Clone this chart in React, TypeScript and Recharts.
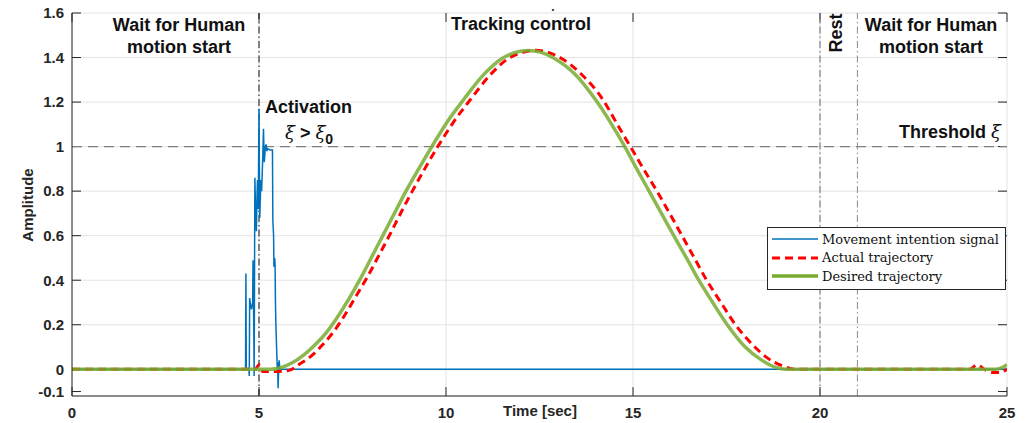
import React from "react";
import { Line, LineChart, CartesianGrid, ReferenceLine, XAxis, YAxis } from "recharts";

// [time (s), amplitude]
const intentionSignal: number[][] = [
  [0, 0], [4.64, 0], [4.65, 0.43], [4.66, 0], [4.73, 0], [4.74, -0.03], [4.75, 0.32], [4.78, 0.28],
  [4.8, 0.27], [4.83, 0.3], [4.84, 0.49], [4.86, 0.2], [4.87, -0.03], [4.88, 0.4], [4.89, 0.86],
  [4.91, 0.7], [4.93, 0.62], [4.95, 0.8], [4.96, 0.85], [4.98, 0.72], [5.0, 1.17], [5.02, 0.68],
  [5.05, 0.85], [5.07, 0.8], [5.1, 0.95], [5.12, 1.08], [5.14, 0.93], [5.15, 0.95], [5.17, 1.0],
  [5.19, 1.01], [5.21, 0.98], [5.23, 0.99], [5.3, 0.985], [5.36, 0.985], [5.37, 0.67], [5.39, 0.6],
  [5.4, 0.46], [5.42, 0.5], [5.43, 0.47], [5.44, 0.3], [5.45, 0.21], [5.47, 0.1], [5.49, 0],
  [5.5, 0.03], [5.51, -0.085], [5.53, 0.02], [5.54, 0.04], [5.56, -0.01], [5.58, 0], [25, 0],
];

const actualTrajectory: number[][] = [
  [0, 0], [4.9, 0], [5.0, 0.02], [5.1, -0.01], [5.5, -0.01], [5.8, -0.005], [6.1, 0.025], [6.4, 0.06],
  [6.7, 0.11], [7.0, 0.17], [7.3, 0.245], [7.6, 0.33], [7.9, 0.415], [8.2, 0.51], [8.5, 0.605],
  [8.8, 0.705], [9.1, 0.8], [9.43, 0.9], [9.78, 1.0], [10.2, 1.11], [10.67, 1.215], [11.17, 1.32],
  [11.68, 1.397], [12.05, 1.423], [12.39, 1.433], [12.73, 1.423], [13.08, 1.397], [13.62, 1.325],
  [14.2, 1.21], [14.58, 1.1], [14.93, 1.0], [15.28, 0.9], [15.64, 0.8], [15.98, 0.7], [16.31, 0.6],
  [16.64, 0.5], [16.97, 0.4], [17.35, 0.3], [17.74, 0.2], [18.2, 0.11], [18.6, 0.05], [19.0, 0.015],
  [19.34, 0], [24.0, 0], [24.2, 0.02], [24.4, 0], [24.6, -0.015], [24.8, -0.015], [25, 0],
];

const desiredTrajectory: number[][] = [
  [0, 0], [5.3, 0], [5.6, 0.008], [5.9, 0.03], [6.2, 0.065], [6.5, 0.11], [6.8, 0.165], [7.1, 0.235],
  [7.4, 0.315], [7.69, 0.4], [8.0, 0.5], [8.31, 0.6], [8.62, 0.7], [8.93, 0.8], [9.27, 0.9],
  [9.62, 1.0], [10.05, 1.115], [10.49, 1.215], [11.0, 1.322], [11.51, 1.397], [11.85, 1.423],
  [12.2, 1.432], [12.55, 1.423], [12.89, 1.397], [13.45, 1.325], [14.0, 1.21], [14.4, 1.108],
  [14.78, 1.0], [15.1, 0.9], [15.43, 0.8], [15.76, 0.7], [16.09, 0.6], [16.43, 0.5], [16.76, 0.4],
  [17.13, 0.3], [17.52, 0.2], [18.0, 0.1], [18.45, 0.04], [18.8, 0.01], [19.1, 0], [24.7, 0],
  [24.9, 0.01], [25, 0.02],
];

const xTicks = [0, 5, 10, 15, 20, 25];
const yTicks = [-0.1, 0, 0.2, 0.4, 0.6, 0.8, 1, 1.2, 1.4, 1.6];
const xDomain = [0, 25];
const yDomain = [-0.12, 1.6];
// inward tick length, in data units (about 9px)
const xTickLen = 0.24;
const yTickLen = 0.04;

const legendItems = [
  { name: "Movement intention signal", color: "#0072BD", width: 1.5, dash: undefined },
  { name: "Actual trajectory", color: "#FF0000", width: 3, dash: "8 5" },
  { name: "Desired trajectory", color: "#77AC30", width: 3.5, dash: undefined },
];

const toPoints = (rows: number[][]) => rows.map(([t, v]) => ({ t, v }));

const axisFont = { fontFamily: "Liberation Sans, Arial, sans-serif", fontWeight: 700, fontSize: 15, fill: "#262626" };
const noteStyle = { fontFamily: "Liberation Sans, Arial, sans-serif", fontWeight: 700, fontSize: 18, fill: "#111" };

function ChartLegend() {
  return (
    <div
      style={{
        position: "absolute",
        left: 767,
        top: 227,
        width: 229,
        border: "1px solid #262626",
        background: "#fff",
        padding: "2px 4px 3px 4px",
      }}
    >
      {legendItems.map((item) => (
        <div key={item.name} style={{ display: "flex", alignItems: "center", height: 18.5 }}>
          <svg width={46} height={10}>
            <line x1={0} x2={46} y1={5} y2={5} stroke={item.color} strokeWidth={item.width} strokeDasharray={item.dash} />
          </svg>
          <span style={{ fontFamily: "DejaVu Serif, serif", fontSize: 13, color: "#111", marginLeft: 4, whiteSpace: "nowrap" }}>
            {item.name}
          </span>
        </div>
      ))}
    </div>
  );
}

export default function App() {
  return (
    <div style={{ position: "fixed", left: 0, top: 0, width: 1026, height: 423, background: "#fff" }}>
      <LineChart width={1026} height={423} margin={{ top: 13, right: 19, bottom: 0, left: 0 }}>
        <CartesianGrid stroke="#e3e3e3" strokeWidth={1} />
        <XAxis
          dataKey="t"
          type="number"
          domain={xDomain}
          ticks={xTicks}
          allowDataOverflow
          height={27}
          tickLine={false}
          tickMargin={5}
          stroke="#262626"
          tick={axisFont}
        />
        <XAxis xAxisId="top" orientation="top" type="number" domain={xDomain} height={0} tick={false} tickLine={false} stroke="#262626" />
        <YAxis
          type="number"
          domain={yDomain}
          ticks={yTicks}
          allowDataOverflow
          width={72}
          tickLine={false}
          stroke="#262626"
          tick={axisFont}
        />
        <YAxis yAxisId="right" orientation="right" type="number" domain={yDomain} width={0} tick={false} tickLine={false} stroke="#262626" />
        {yTicks.map((v) => (
          <ReferenceLine key={`yl${v}`} segment={[{ x: 0, y: v }, { x: xTickLen, y: v }]} stroke="#262626" ifOverflow="visible" />
        ))}
        {yTicks.map((v) => (
          <ReferenceLine key={`yr${v}`} segment={[{ x: 25 - xTickLen, y: v }, { x: 25, y: v }]} stroke="#262626" ifOverflow="visible" />
        ))}
        {xTicks.map((t) => (
          <ReferenceLine key={`xb${t}`} segment={[{ x: t, y: yDomain[0] }, { x: t, y: yDomain[0] + yTickLen }]} stroke="#262626" ifOverflow="visible" />
        ))}
        {xTicks.map((t) => (
          <ReferenceLine key={`xt${t}`} segment={[{ x: t, y: yDomain[1] - yTickLen }, { x: t, y: yDomain[1] }]} stroke="#262626" ifOverflow="visible" />
        ))}
        <ReferenceLine y={1} stroke="#808080" strokeWidth={1.2} strokeDasharray="10 6" />
        <ReferenceLine x={5} stroke="#111" strokeWidth={1} strokeDasharray="7 3 1.5 3" />
        <ReferenceLine x={20} stroke="#6a6a6a" strokeWidth={1} strokeDasharray="7 3 1.5 3" />
        <ReferenceLine x={21} stroke="#8a8a8a" strokeWidth={1} strokeDasharray="7 3 1.5 3" />
        <Line data={toPoints(intentionSignal)} dataKey="v" type="linear" stroke="#0072BD" strokeWidth={1.5} dot={false} isAnimationActive={false} />
        <Line data={toPoints(actualTrajectory)} dataKey="v" type="monotone" stroke="#FF0000" strokeWidth={3} strokeDasharray="8 5" dot={false} isAnimationActive={false} />
        <Line data={toPoints(desiredTrajectory)} dataKey="v" type="monotone" stroke="#77AC30" strokeWidth={3.5} strokeOpacity={0.85} dot={false} isAnimationActive={false} />
      </LineChart>
      <ChartLegend />
      <svg width={1026} height={423} style={{ position: "absolute", left: 0, top: 0, pointerEvents: "none" }}>
        <text x={553} y={11} textAnchor="middle" style={{ ...axisFont, fontSize: 12 }}>.</text>
        <text x={179} y={31} textAnchor="middle" style={noteStyle}>Wait for Human</text>
        <text x={179} y={53} textAnchor="middle" style={noteStyle}>motion start</text>
        <text x={521} y={30} textAnchor="middle" style={noteStyle}>Tracking control</text>
        <text x={931} y={31} textAnchor="middle" style={noteStyle}>Wait for Human</text>
        <text x={931} y={53} textAnchor="middle" style={noteStyle}>motion start</text>
        <text transform="translate(842,33) rotate(-90)" textAnchor="middle" style={noteStyle}>Rest</text>
        <text x={265} y={113} style={noteStyle}>Activation</text>
        <text x={285} y={139} style={{ ...noteStyle, fontWeight: 400, fontFamily: "DejaVu Serif, serif" }}>
          <tspan fontStyle="italic">ξ</tspan>
          <tspan fontFamily="Liberation Sans, Arial, sans-serif" fontWeight={700}> &gt; </tspan>
          <tspan fontStyle="italic">ξ</tspan>
          <tspan fontFamily="Liberation Sans, Arial, sans-serif" fontWeight={700} fontSize={14} dy={5}>0</tspan>
        </text>
        <text x={1001} y={138} textAnchor="end" style={noteStyle}>
          Threshold <tspan fontFamily="DejaVu Serif, serif" fontWeight={400} fontStyle="italic">ξ</tspan>
        </text>
        <text transform="translate(33,205) rotate(-90)" textAnchor="middle" style={axisFont}>Amplitude</text>
        <text x={540} y={416} textAnchor="middle" style={axisFont}>Time [sec]</text>
      </svg>
    </div>
  );
}
